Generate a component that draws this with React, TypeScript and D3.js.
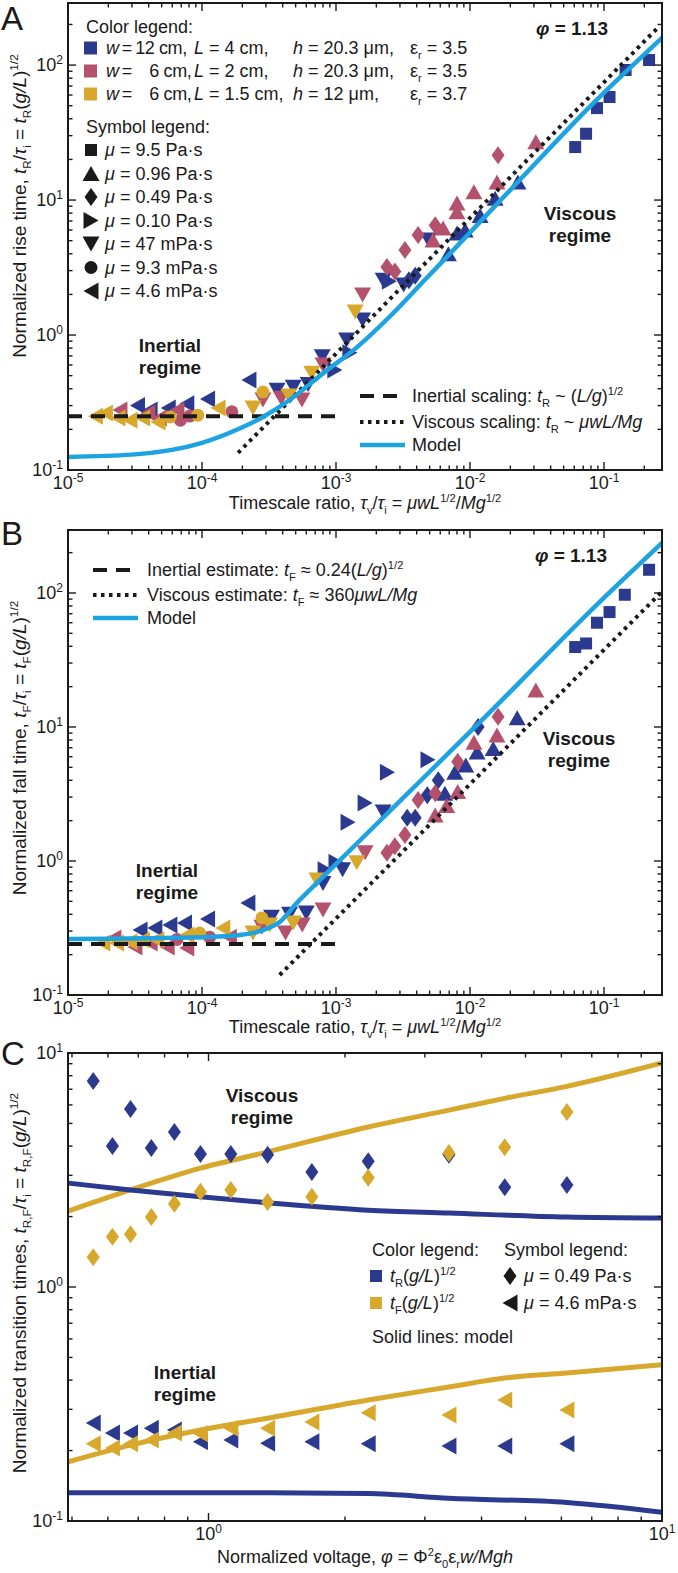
import React from 'react';
import * as d3 from 'd3';

type Pt = [number, number];
type Shape = 'square' | 'up' | 'down' | 'left' | 'right' | 'diamond' | 'circle';

const NAVY = '#2b3a8e';
const ROSE = '#b4526d';
const GOLD = '#d7a82c';
const CYAN = '#1ca3e0';
const INK = '#1a1a1a';
const FONT = '"Liberation Sans", Arial, Helvetica, sans-serif';

// ---------- Panel A: rise time ----------
const aBlueSquare: Pt[] = [[0.061, 24.7], [0.0735, 31], [0.0887, 48], [0.11, 58], [0.145, 92], [0.217, 109]];
const aBlueUp: Pt[] = [[6.9e-3, 4.0], [8e-3, 5.7], [9.2e-3, 6.0], [0.0119, 7.7], [0.0154, 10.3], [0.0228, 13.6]];
const aBlueRight: Pt[] = [[9.8e-4, 0.55], [1.27e-3, 0.74], [2.5e-3, 2.5]];
const aBlueDown: Pt[] = [[3.63e-4, 0.39], [4.8e-4, 0.41], [6.2e-4, 0.43], [7.9e-4, 0.69], [1.2e-3, 0.92], [1.58e-3, 1.29], [2.25e-3, 2.55], [3.2e-3, 2.35], [4.9e-3, 5.06]];
const aBlueDiamond: Pt[] = [[3.5e-3, 2.55], [3.9e-3, 2.75]];
const aBlueLeft: Pt[] = [[3.3e-5, 0.3], [4.1e-5, 0.278], [5.6e-5, 0.288], [7.7e-5, 0.31], [1.1e-4, 0.336], [2.24e-4, 0.465]];
const aRoseUp: Pt[] = [[5.3e-3, 5.06], [6.3e-3, 6.2], [8e-3, 8.2], [8e-3, 9.5], [0.0107, 11.5], [0.0159, 13.6], [0.031, 27]];
const aRoseDiamond: Pt[] = [[2.4e-3, 3.19], [2.75e-3, 2.95], [3.27e-3, 4.27], [4.1e-3, 5.5], [5.5e-3, 6.5], [0.0162, 21.5]];
const aRoseDown: Pt[] = [[2.85e-4, 0.33], [3.9e-4, 0.34], [5.57e-4, 0.33], [8e-4, 0.6], [1.58e-3, 1.98]];
const aRoseCircle: Pt[] = [[6.9e-5, 0.234], [8.1e-5, 0.251], [1.67e-4, 0.27]];
const aRoseLeft: Pt[] = [[2.44e-5, 0.278], [3.95e-5, 0.264], [4.8e-5, 0.243], [6.5e-5, 0.278]];
const aGoldDown: Pt[] = [[2.4e-4, 0.288], [4.46e-4, 0.353], [6.6e-4, 0.52], [1.39e-3, 1.48]];
const aGoldCircle: Pt[] = [[5.8e-5, 0.247], [9.3e-5, 0.255], [2.85e-4, 0.378]];
const aGoldLeft: Pt[] = [[1.6e-5, 0.25], [1.9e-5, 0.264], [2.36e-5, 0.243], [2.9e-5, 0.234], [3.6e-5, 0.243], [4.7e-5, 0.227], [1.32e-4, 0.288]];
const aModel: Pt[] = [[1e-5, 0.125], [3e-5, 0.13], [1e-4, 0.159], [1.8e-4, 0.198], [2.85e-4, 0.247], [4.5e-4, 0.33], [8e-4, 0.52], [1.43e-3, 0.81], [2.5e-3, 1.36], [4.5e-3, 2.5], [6.7e-3, 3.78], [0.021, 12.5], [0.083, 52], [0.275, 161]];
const aInertial: Pt[] = [[1e-5, 0.25], [1e-3, 0.25]];
const aViscous: Pt[] = [[1.86e-4, 0.134], [0.26, 195]];

// ---------- Panel B: fall time ----------
const bBlueSquare: Pt[] = [[0.061, 39.5], [0.0735, 42], [0.0887, 60], [0.11, 72], [0.143, 97], [0.217, 149]];
const bBlueUp: Pt[] = [[6.5e-3, 3.2], [7.7e-3, 4.6], [9.3e-3, 5.2], [0.0113, 6.5], [0.0149, 6.9], [0.0225, 11.7]];
const bBlueRight: Pt[] = [[8.3e-4, 0.86], [1e-3, 0.98], [1.23e-3, 1.95], [1.65e-3, 2.71], [2.42e-3, 4.6], [4.86e-3, 5.7]];
const bBlueDown: Pt[] = [[3.3e-4, 0.38], [4.5e-4, 0.4], [6e-4, 0.41], [8e-4, 0.68], [1.12e-3, 0.86], [2.25e-3, 2.32]];
const bBlueDiamond: Pt[] = [[3.4e-3, 2.1], [3.9e-3, 2.1], [4.8e-3, 3.1], [5.8e-3, 4.0], [0.0115, 10.0]];
const bBlueLeft: Pt[] = [[3.45e-5, 0.305], [4.45e-5, 0.316], [5.76e-5, 0.333], [7.4e-5, 0.344], [1.1e-4, 0.369], [2.2e-4, 0.486]];
const bRoseUp: Pt[] = [[5.5e-3, 2.2], [6.7e-3, 2.6], [8.1e-3, 3.3], [0.0107, 7.7], [0.0159, 8.7], [0.031, 18.9]];
const bRoseDiamond: Pt[] = [[2.4e-3, 1.15], [2.75e-3, 1.29], [3.27e-3, 1.56], [4.1e-3, 2.85], [5.5e-3, 3.2], [8.1e-3, 5.5], [0.0162, 11.9]];
const bRoseDown: Pt[] = [[2.8e-4, 0.32], [4.2e-4, 0.29], [5.6e-4, 0.333], [8e-4, 0.43], [1.65e-3, 1.15]];
const bRoseCircle: Pt[] = [[6.5e-5, 0.26], [1.14e-4, 0.27]];
const bRoseLeft: Pt[] = [[2.2e-5, 0.266], [3.16e-5, 0.228], [4.1e-5, 0.244], [5.5e-5, 0.228], [7.7e-5, 0.224], [1.6e-4, 0.27]];
const bGoldDown: Pt[] = [[2.4e-4, 0.29], [3.2e-4, 0.333], [4.8e-4, 0.344], [7.2e-4, 0.72], [1.43e-3, 0.97]];
const bGoldCircle: Pt[] = [[9.6e-5, 0.29], [2.8e-4, 0.376]];
const bGoldLeft: Pt[] = [[1.82e-5, 0.244], [2.3e-5, 0.244], [2.9e-5, 0.25], [3.6e-5, 0.257], [4.6e-5, 0.257], [7.7e-5, 0.28], [1.43e-4, 0.316]];
const bModel: Pt[] = [[1e-5, 0.262], [1e-4, 0.27], [1.92e-4, 0.28], [2.85e-4, 0.305], [3.8e-4, 0.35], [5.1e-4, 0.486], [8e-4, 0.76], [2.4e-3, 2.25], [0.0141, 12.9], [0.093, 86], [0.275, 240]];
const bInertial: Pt[] = [[1e-5, 0.24], [1e-3, 0.24]];
const bViscous: Pt[] = [[3.8e-4, 0.141], [0.27, 102]];

// ---------- Panel C: transition times vs voltage ----------
const cBlueDiamond: Pt[] = [[0.557, 7.6], [0.614, 4.0], [0.673, 5.76], [0.748, 3.93], [0.841, 4.6], [0.96, 3.7], [1.12, 3.7], [1.35, 3.67], [1.69, 3.1], [2.25, 3.45], [3.39, 3.67], [4.5, 2.67], [6.17, 2.73]];
const cGoldDiamond: Pt[] = [[0.557, 1.34], [0.614, 1.64], [0.673, 1.68], [0.748, 1.99], [0.841, 2.27], [0.96, 2.55], [1.12, 2.6], [1.35, 2.31], [1.69, 2.43], [2.25, 2.93], [3.39, 3.74], [4.5, 3.96], [6.17, 5.6]];
const cBlueLeft: Pt[] = [[0.557, 0.262], [0.614, 0.238], [0.673, 0.238], [0.748, 0.249], [0.841, 0.245], [0.96, 0.218], [1.12, 0.222], [1.35, 0.215], [1.69, 0.218], [2.25, 0.214], [3.39, 0.209], [4.5, 0.209], [6.17, 0.214]];
const cGoldLeft: Pt[] = [[0.557, 0.214], [0.614, 0.205], [0.673, 0.214], [0.748, 0.222], [0.841, 0.238], [0.96, 0.236], [1.12, 0.249], [1.35, 0.249], [1.69, 0.265], [2.25, 0.29], [3.39, 0.284], [4.5, 0.329], [6.17, 0.298]];
const cGoldUpper: Pt[] = [[0.49, 2.11], [0.673, 2.6], [0.96, 3.22], [1.35, 3.78], [2.25, 4.83], [3.39, 5.7], [4.5, 6.4], [6.17, 7.2], [10, 9.06]];
const cBlueUpper: Pt[] = [[0.49, 2.78], [0.673, 2.6], [0.96, 2.43], [1.35, 2.29], [2.25, 2.13], [3.39, 2.07], [6.17, 1.99], [10, 1.97]];
const cGoldLower: Pt[] = [[0.49, 0.179], [0.673, 0.211], [0.96, 0.245], [1.35, 0.275], [2.25, 0.329], [3.39, 0.374], [4.5, 0.408], [6.17, 0.429], [10, 0.465]];
const cBlueLower: Pt[] = [[0.49, 0.132], [1.35, 0.132], [2.25, 0.131], [3.39, 0.125], [6.17, 0.12], [10, 0.109]];

// ---------- legend labels ----------
const colorRows = [
  ['12', '4', '20.3 μm,', '3.5'],
  ['\u2007 6', '2', '20.3 μm,', '3.5'],
  ['\u2007 6', '1.5', '12 μm,', '3.7'],
];
const symbolRows: [Shape, string][] = [
  ['square', '9.5 Pa·s'],
  ['up', '0.96 Pa·s'],
  ['diamond', '0.49 Pa·s'],
  ['right', '0.10 Pa·s'],
  ['down', '47 mPa·s'],
  ['circle', '9.3 mPa·s'],
  ['left', '4.6 mPa·s'],
];

// ---------- helpers ----------
const X0 = 68;
const X1 = 662;

function shapePath(s: Shape): string {
  switch (s) {
    case 'square':
      return 'M-6,-6H6V6H-6Z';
    case 'up':
      return 'M0,-7.5L8.5,7.5L-8.5,7.5Z';
    case 'down':
      return 'M0,7.5L8.5,-7.5L-8.5,-7.5Z';
    case 'left':
      return 'M-7.5,0L7.5,-8.5L7.5,8.5Z';
    case 'right':
      return 'M7.5,0L-7.5,-8.5L-7.5,8.5Z';
    case 'diamond':
      return 'M0,-9L6.5,0L0,9L-6.5,0Z';
    case 'circle':
      return 'M6.5,0A6.5,6.5 0 1,1 -6.5,0A6.5,6.5 0 1,1 6.5,0Z';
  }
  return '';
}

type Seg = { t: string; i?: boolean; b?: 'sub' | 'sup' };
function rich(segs: Seg[], fs: number) {
  let cur = 0;
  return segs.map((s, k) => {
    const target = s.b === 'sub' ? fs * 0.28 : s.b === 'sup' ? -fs * 0.4 : 0;
    const dy = target - cur;
    cur = target;
    return (
      <tspan key={k} dy={dy !== 0 ? dy : undefined} fontStyle={s.i ? 'italic' : undefined} fontSize={s.b ? fs * 0.62 : undefined}>
        {s.t}
      </tspan>
    );
  });
}

const isMajor = (t: number) => Math.abs(Math.log10(t) - Math.round(Math.log10(t))) < 1e-9;

function Frame({ x, y, labelX }: { x: any; y: any; labelX: number[] }) {
  const [x0, x1] = x.range();
  const [yb, yt] = y.range();
  const [dx0, dx1] = x.domain();
  const xt = x.ticks(10).filter((t: number) => t >= dx0 * 0.999 && t <= dx1 * 1.001);
  const ytk = y.ticks(10);
  const MJ = 8;
  const MN = 4.5;
  return (
    <g>
      <g stroke={INK} strokeWidth={1.4}>
        {xt.map((t: number) => {
          const l = isMajor(t) ? MJ : MN;
          const px = x(t);
          return (
            <g key={'x' + t}>
              <line x1={px} x2={px} y1={yb} y2={yb - l} />
              <line x1={px} x2={px} y1={yt} y2={yt + l} />
            </g>
          );
        })}
        {ytk.map((t: number) => {
          const l = isMajor(t) ? MJ : MN;
          const py = y(t);
          return (
            <g key={'y' + t}>
              <line x1={x0} x2={x0 + l} y1={py} y2={py} />
              <line x1={x1} x2={x1 - l} y1={py} y2={py} />
            </g>
          );
        })}
      </g>
      <rect x={x0} y={yt} width={x1 - x0} height={yb - yt} fill="none" stroke={INK} strokeWidth={2} />
      <g fontSize={18} fill={INK}>
        {ytk.filter(isMajor).map((t: number) => (
          <text key={'yl' + t} x={x0 - 5} y={y(t)} dy="0.35em" textAnchor="end">
            10<tspan dy={-7} fontSize={12}>{Math.round(Math.log10(t))}</tspan>
          </text>
        ))}
        {labelX.map((t: number) => (
          <text key={'xl' + t} x={x(t)} y={yb + 19} textAnchor="middle">
            10<tspan dy={-7} fontSize={12}>{Math.round(Math.log10(t))}</tspan>
          </text>
        ))}
      </g>
    </g>
  );
}

function Markers({ x, y, series }: { x: any; y: any; series: { pts: Pt[]; shape: Shape; color: string }[] }) {
  return (
    <g>
      {series.map((s, i) => (
        <g key={i} fill={s.color}>
          {s.pts.map((p, j) => (
            <path key={j} d={shapePath(s.shape)} transform={`translate(${x(p[0])},${y(p[1])})`} />
          ))}
        </g>
      ))}
    </g>
  );
}

function lineD(x: any, y: any, pts: Pt[], curve = true) {
  const g = d3
    .line<Pt>()
    .x((d) => x(d[0]))
    .y((d) => y(d[1]));
  if (curve) g.curve(d3.curveMonotoneX);
  return g(pts) || '';
}

function BoldLabel({ x, y, lines }: { x: number; y: number; lines: string[] }) {
  return (
    <g fontSize={19} fontWeight="bold" fill={INK} textAnchor="middle">
      {lines.map((l, i) => (
        <text key={i} x={x} y={y + i * 22.5} dy="0.35em">
          {l}
        </text>
      ))}
    </g>
  );
}

export default function App() {
  const xAB = d3.scaleLog().domain([1e-5, Math.pow(10, -0.567)]).range([X0, X1]);
  const yA = d3.scaleLog().domain([0.1, Math.pow(10, 2.46)]).range([470, 3]);
  const yB = d3.scaleLog().domain([0.1, Math.pow(10, 2.47)]).range([995, 530]);
  const xC = d3.scaleLog().domain([0.49, 10]).range([X0, X1]);
  const yC = d3.scaleLog().domain([0.1, 10]).range([1521, 1053]);

  const seriesA = [
    { pts: aBlueSquare, shape: 'square' as Shape, color: NAVY },
    { pts: aBlueUp, shape: 'up' as Shape, color: NAVY },
    { pts: aBlueRight, shape: 'right' as Shape, color: NAVY },
    { pts: aBlueDown, shape: 'down' as Shape, color: NAVY },
    { pts: aBlueDiamond, shape: 'diamond' as Shape, color: NAVY },
    { pts: aBlueLeft, shape: 'left' as Shape, color: NAVY },
    { pts: aRoseUp, shape: 'up' as Shape, color: ROSE },
    { pts: aRoseDiamond, shape: 'diamond' as Shape, color: ROSE },
    { pts: aRoseDown, shape: 'down' as Shape, color: ROSE },
    { pts: aRoseCircle, shape: 'circle' as Shape, color: ROSE },
    { pts: aRoseLeft, shape: 'left' as Shape, color: ROSE },
    { pts: aGoldDown, shape: 'down' as Shape, color: GOLD },
    { pts: aGoldCircle, shape: 'circle' as Shape, color: GOLD },
    { pts: aGoldLeft, shape: 'left' as Shape, color: GOLD },
  ];
  const seriesB = [
    { pts: bBlueSquare, shape: 'square' as Shape, color: NAVY },
    { pts: bBlueUp, shape: 'up' as Shape, color: NAVY },
    { pts: bBlueRight, shape: 'right' as Shape, color: NAVY },
    { pts: bBlueDown, shape: 'down' as Shape, color: NAVY },
    { pts: bBlueDiamond, shape: 'diamond' as Shape, color: NAVY },
    { pts: bBlueLeft, shape: 'left' as Shape, color: NAVY },
    { pts: bRoseUp, shape: 'up' as Shape, color: ROSE },
    { pts: bRoseDiamond, shape: 'diamond' as Shape, color: ROSE },
    { pts: bRoseDown, shape: 'down' as Shape, color: ROSE },
    { pts: bRoseCircle, shape: 'circle' as Shape, color: ROSE },
    { pts: bRoseLeft, shape: 'left' as Shape, color: ROSE },
    { pts: bGoldDown, shape: 'down' as Shape, color: GOLD },
    { pts: bGoldCircle, shape: 'circle' as Shape, color: GOLD },
    { pts: bGoldLeft, shape: 'left' as Shape, color: GOLD },
  ];
  const seriesC = [
    { pts: cBlueDiamond, shape: 'diamond' as Shape, color: NAVY },
    { pts: cGoldDiamond, shape: 'diamond' as Shape, color: GOLD },
    { pts: cBlueLeft, shape: 'left' as Shape, color: NAVY },
    { pts: cGoldLeft, shape: 'left' as Shape, color: GOLD },
  ];

  const dash = '14 9';
  const dot = '3.5 4.5';
  const xTicksAB = [1e-5, 1e-4, 1e-3, 1e-2, 1e-1];

  const xTitleAB: Seg[] = [
    { t: 'Timescale ratio, ' },
    { t: 'τ', i: true },
    { t: 'v', b: 'sub' },
    { t: '/' },
    { t: 'τ', i: true },
    { t: 'i', b: 'sub' },
    { t: ' = ' },
    { t: 'μwL', i: true },
    { t: '1/2', b: 'sup' },
    { t: '/' },
    { t: 'Mg', i: true },
    { t: '1/2', b: 'sup' },
  ];
  const yTitle = (name: string, s: string): Seg[] => [
    { t: name + ', ' },
    { t: 't', i: true },
    { t: s, b: 'sub' },
    { t: '/' },
    { t: 'τ', i: true },
    { t: 'i', b: 'sub' },
    { t: ' = ' },
    { t: 't', i: true },
    { t: s, b: 'sub' },
    { t: '(' },
    { t: 'g/L', i: true },
    { t: ')' },
    { t: '1/2', b: 'sup' },
  ];
  const YT = 19;

  return (
    <svg
      width={678}
      height={1573}
      viewBox="0 0 678 1573"
      style={{ position: 'absolute', left: 0, top: 0, background: '#fff' }}
      fontFamily={FONT}
    >
      <defs>
        <clipPath id="clipA">
          <rect x={X0} y={3} width={X1 - X0} height={467} />
        </clipPath>
        <clipPath id="clipB">
          <rect x={X0} y={530} width={X1 - X0} height={465} />
        </clipPath>
        <clipPath id="clipC">
          <rect x={X0} y={1053} width={X1 - X0} height={468} />
        </clipPath>
      </defs>
      <rect x={0} y={0} width={678} height={1573} fill="#fff" />

      {/* Panel letters */}
      <g fontSize={33} fill={INK}>
        <text x={1} y={30}>A</text>
        <text x={1} y={545}>B</text>
        <text x={1} y={1065}>C</text>
      </g>

      {/* ================= Panel A ================= */}
      <Markers x={xAB} y={yA} series={seriesA} />
      <g clipPath="url(#clipA)" fill="none">
        <path d={lineD(xAB, yA, aInertial, false)} stroke={INK} strokeWidth={4} strokeDasharray={dash} />
        <path d={lineD(xAB, yA, aViscous, false)} stroke={INK} strokeWidth={4} strokeDasharray={dot} />
        <path d={lineD(xAB, yA, aModel)} stroke={CYAN} strokeWidth={4.5} />
      </g>
      <Frame x={xAB} y={yA} labelX={xTicksAB} />

      {/* Panel A legends */}
      <g fontSize={18} fill={INK} style={{ whiteSpace: 'pre' }}>
        <text x={86} y={27} dy="0.35em">Color legend:</text>
        {colorRows.map((r, i) => {
          const cy = 48 + i * 23;
          const col = [NAVY, ROSE, GOLD][i];
          return (
            <g key={i}>
              <rect x={84} y={cy - 6.5} width={13} height={13} fill={col} />
              <text x={106} y={cy} dy="0.35em" letterSpacing={-0.4}>
                {rich([{ t: 'w', i: true }, { t: '\u2009=\u2009' + r[0] + ' cm,' }], 18)}
              </text>
              <text x={194} y={cy} dy="0.35em">
                {rich([{ t: 'L', i: true }, { t: ' = ' + r[1] + ' cm,' }], 18)}
              </text>
              <text x={293} y={cy} dy="0.35em">
                {rich([{ t: 'h', i: true }, { t: ' = ' + r[2] }], 18)}
              </text>
              <text x={410} y={cy} dy="0.35em">
                {rich([{ t: 'ε' }, { t: 'r', b: 'sub' }, { t: ' = ' + r[3] }], 18)}
              </text>
            </g>
          );
        })}
        <text x={86} y={127} dy="0.35em">Symbol legend:</text>
        {symbolRows.map((r, i) => {
          const cy = 150 + i * 23.5;
          return (
            <g key={'s' + i}>
              <path d={shapePath(r[0])} transform={`translate(91,${cy})`} fill={INK} />
              <text x={105} y={cy} dy="0.35em">
                {rich([{ t: 'μ', i: true }, { t: ' = ' + r[1] }], 18)}
              </text>
            </g>
          );
        })}
      </g>
      <g fontSize={18} fill={INK} style={{ whiteSpace: 'pre' }}>
        <line x1={360} x2={405} y1={396} y2={396} stroke={INK} strokeWidth={4} strokeDasharray={dash} />
        <text x={412} y={396} dy="0.35em">
          {rich([{ t: 'Inertial scaling: ' }, { t: 't', i: true }, { t: 'R', b: 'sub' }, { t: ' ~ (' }, { t: 'L/g', i: true }, { t: ')' }, { t: '1/2', b: 'sup' }], 18)}
        </text>
        <line x1={360} x2={405} y1={422} y2={422} stroke={INK} strokeWidth={4} strokeDasharray={dot} />
        <text x={412} y={422} dy="0.35em">
          {rich([{ t: 'Viscous scaling: ' }, { t: 't', i: true }, { t: 'R', b: 'sub' }, { t: ' ~ ' }, { t: 'μwL/Mg', i: true }], 18)}
        </text>
        <line x1={360} x2={405} y1={445} y2={445} stroke={CYAN} strokeWidth={4.5} />
        <text x={412} y={445} dy="0.35em">Model</text>
      </g>
      <text x={572} y={28} dy="0.35em" fontSize={19} fontWeight="bold" textAnchor="middle" fill={INK}>
        <tspan fontStyle="italic">φ</tspan> = 1.13
      </text>
      <BoldLabel x={580} y={213} lines={['Viscous', 'regime']} />
      <BoldLabel x={170} y={345} lines={['Inertial', 'regime']} />
      <text x={365} y={509} fontSize={18} textAnchor="middle" fill={INK} style={{ whiteSpace: 'pre' }}>
        {rich(xTitleAB, 18)}
      </text>
      <text transform="translate(26,206) rotate(-90)" fontSize={YT} textAnchor="middle" fill={INK} style={{ whiteSpace: 'pre' }}>
        {rich(yTitle('Normalized rise time', 'R'), YT)}
      </text>

      {/* ================= Panel B ================= */}
      <Markers x={xAB} y={yB} series={seriesB} />
      <g clipPath="url(#clipB)" fill="none">
        <path d={lineD(xAB, yB, bInertial, false)} stroke={INK} strokeWidth={4} strokeDasharray={dash} />
        <path d={lineD(xAB, yB, bViscous, false)} stroke={INK} strokeWidth={4} strokeDasharray={dot} />
        <path d={lineD(xAB, yB, bModel)} stroke={CYAN} strokeWidth={4.5} />
      </g>
      <Frame x={xAB} y={yB} labelX={xTicksAB} />
      <g fontSize={18} fill={INK} style={{ whiteSpace: 'pre' }}>
        <line x1={93} x2={138} y1={570} y2={570} stroke={INK} strokeWidth={4} strokeDasharray={dash} />
        <text x={147} y={570} dy="0.35em">
          {rich([{ t: 'Inertial estimate: ' }, { t: 't', i: true }, { t: 'F', b: 'sub' }, { t: ' ≈ 0.24(' }, { t: 'L/g', i: true }, { t: ')' }, { t: '1/2', b: 'sup' }], 18)}
        </text>
        <line x1={93} x2={138} y1={595} y2={595} stroke={INK} strokeWidth={4} strokeDasharray={dot} />
        <text x={147} y={595} dy="0.35em">
          {rich([{ t: 'Viscous estimate: ' }, { t: 't', i: true }, { t: 'F', b: 'sub' }, { t: ' ≈ 360' }, { t: 'μwL/Mg', i: true }], 18)}
        </text>
        <line x1={93} x2={138} y1={618} y2={618} stroke={CYAN} strokeWidth={4.5} />
        <text x={147} y={618} dy="0.35em">Model</text>
      </g>
      <text x={571} y={555} dy="0.35em" fontSize={19} fontWeight="bold" textAnchor="middle" fill={INK}>
        <tspan fontStyle="italic">φ</tspan> = 1.13
      </text>
      <BoldLabel x={579} y={738} lines={['Viscous', 'regime']} />
      <BoldLabel x={167} y={870} lines={['Inertial', 'regime']} />
      <text x={365} y={1033} fontSize={18} textAnchor="middle" fill={INK} style={{ whiteSpace: 'pre' }}>
        {rich(xTitleAB, 18)}
      </text>
      <text transform="translate(26,748) rotate(-90)" fontSize={YT} textAnchor="middle" fill={INK} style={{ whiteSpace: 'pre' }}>
        {rich(yTitle('Normalized fall time', 'F'), YT)}
      </text>

      {/* ================= Panel C ================= */}
      <g clipPath="url(#clipC)" fill="none" strokeWidth={5}>
        <path d={lineD(xC, yC, cGoldUpper)} stroke={GOLD} />
        <path d={lineD(xC, yC, cBlueUpper)} stroke={NAVY} />
        <path d={lineD(xC, yC, cGoldLower)} stroke={GOLD} />
        <path d={lineD(xC, yC, cBlueLower)} stroke={NAVY} />
      </g>
      <Markers x={xC} y={yC} series={seriesC} />
      <Frame x={xC} y={yC} labelX={[1, 10]} />
      <g fontSize={18} fill={INK} style={{ whiteSpace: 'pre' }}>
        <text x={372} y={1250} dy="0.35em">Color legend:</text>
        <text x={504} y={1250} dy="0.35em">Symbol legend:</text>
        <rect x={370} y={1270} width={12} height={12} fill={NAVY} />
        <text x={390} y={1276} dy="0.35em">
          {rich([{ t: 't', i: true }, { t: 'R', b: 'sub' }, { t: '(' }, { t: 'g/L', i: true }, { t: ')' }, { t: '1/2', b: 'sup' }], 18)}
        </text>
        <rect x={370} y={1297} width={12} height={12} fill={GOLD} />
        <text x={390} y={1303} dy="0.35em">
          {rich([{ t: 't', i: true }, { t: 'F', b: 'sub' }, { t: '(' }, { t: 'g/L', i: true }, { t: ')' }, { t: '1/2', b: 'sup' }], 18)}
        </text>
        <path d={shapePath('diamond')} transform="translate(510,1276)" fill={INK} />
        <text x={524} y={1276} dy="0.35em">
          {rich([{ t: 'μ', i: true }, { t: ' = 0.49 Pa·s' }], 18)}
        </text>
        <path d={shapePath('left')} transform="translate(510,1303)" fill={INK} />
        <text x={524} y={1303} dy="0.35em">
          {rich([{ t: 'μ', i: true }, { t: ' = 4.6 mPa·s' }], 18)}
        </text>
        <text x={372} y={1337} dy="0.35em">Solid lines: model</text>
      </g>
      <BoldLabel x={262} y={1095} lines={['Viscous', 'regime']} />
      <BoldLabel x={185} y={1372} lines={['Inertial', 'regime']} />
      <text x={365} y={1563} fontSize={18} textAnchor="middle" fill={INK} style={{ whiteSpace: 'pre' }}>
        {rich(
          [
            { t: 'Normalized voltage, ' },
            { t: 'φ', i: true },
            { t: ' = Φ' },
            { t: '2', b: 'sup' },
            { t: 'ε' },
            { t: '0', b: 'sub' },
            { t: 'ε' },
            { t: 'r', b: 'sub' },
            { t: 'w/Mgh', i: true },
          ],
          18
        )}
      </text>
      <text transform="translate(26,1283) rotate(-90)" fontSize={YT} textAnchor="middle" fill={INK} style={{ whiteSpace: 'pre' }}>
        {rich(yTitle('Normalized transition times', 'R,F'), YT)}
      </text>
    </svg>
  );
}
